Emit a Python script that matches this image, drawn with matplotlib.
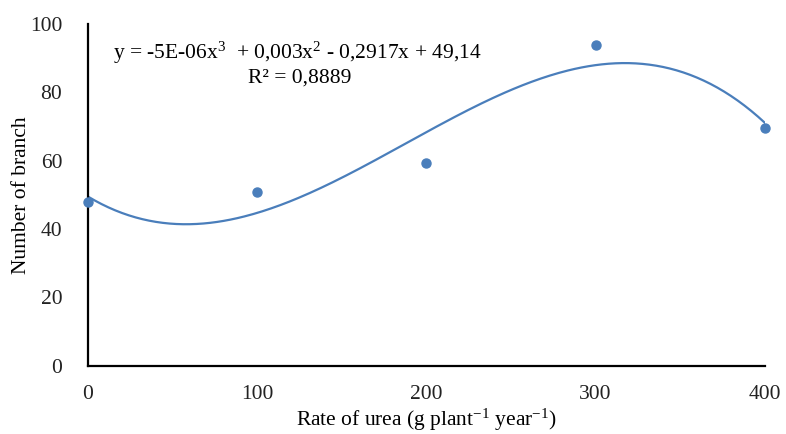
import matplotlib
matplotlib.use('Agg')
import matplotlib.pyplot as plt
import numpy as np

# data
urea_rate = [0, 100, 200, 300, 400]
n_branch = [48.0, 50.7, 59.4, 93.9, 69.6]
x_ticks = [0, 100, 200, 300, 400]
y_ticks = [0, 20, 40, 60, 80, 100]
equation = 'y = -5E-06x$^3$  + 0,003x$^2$ - 0,2917x + 49,14'
r2_text = 'R² = 0,8889'

plt.rcParams['font.family'] = ['Liberation Serif', 'DejaVu Serif']
plt.rcParams['mathtext.fontset'] = 'custom'
plt.rcParams['mathtext.rm'] = 'Liberation Serif'
plt.rcParams['mathtext.it'] = 'Liberation Serif'

blue = '#4a7ebb'
fs = 15.5

fig = plt.figure(figsize=(7.86, 4.34), dpi=100)
ax = fig.add_axes([0.112, 0.157, 0.861, 0.788])

# 3rd order polynomial trendline, like Excel
coef = np.polyfit(urea_rate, n_branch, 3)
xs = np.linspace(0, 400, 300)
ax.plot(xs, np.polyval(coef, xs), color=blue, lw=1.6, zorder=2)
ax.plot(urea_rate, n_branch, 'o', color=blue, ms=6.5, zorder=3, clip_on=False)

ax.set_xlim(0, 400)
ax.set_ylim(0, 100)
ax.set_xticks(x_ticks)
ax.set_yticks(y_ticks)
ax.tick_params(length=0, labelsize=fs, colors='#222222')
ax.tick_params(axis='y', pad=18.5)
ax.tick_params(axis='x', pad=14)

for s in ['top', 'right']:
    ax.spines[s].set_visible(False)
for s in ['left', 'bottom']:
    ax.spines[s].set_linewidth(1.6)
    ax.spines[s].set_color('black')

ax.set_xlabel('Rate of urea (g plant$^{-1}$ year$^{-1}$)', fontsize=fs, labelpad=2)
ax.set_ylabel('Number of branch', fontsize=fs, labelpad=-1)

fig.text(113 / 786, 1 - 53 / 434, equation, fontsize=fs, va='center', ha='left')
fig.text(300 / 786, 1 - 78 / 434, r2_text, fontsize=fs, va='center', ha='center')

plt.savefig('out.png', dpi=100)
